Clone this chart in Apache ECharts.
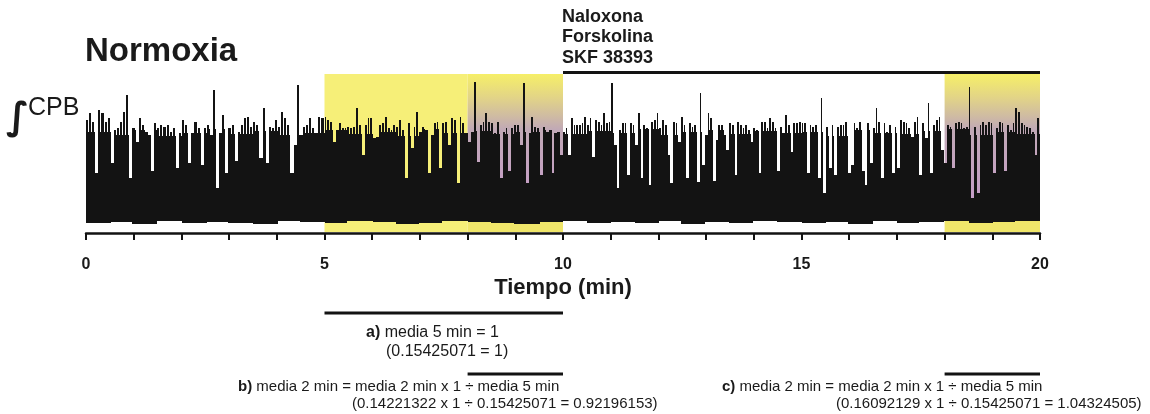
<!DOCTYPE html>
<html>
<head>
<meta charset="utf-8">
<script src="https://cdn.jsdelivr.net/npm/echarts@6/dist/echarts.min.js"></script>
<style>
  html, body { margin: 0; padding: 0; background: #fff; }
  #chart { width: 1150px; height: 414px; }
</style>
</head>
<body>
<div id="chart"></div>
<script>
// integrated CPB trace, spike tops (arbitrary units, 0 = time axis)
const peaks0to5 = [113,120,111,60,123,120,111,115,70,103,105,111,121,138,55,105,91,115,108,101,
  98,62,110,105,108,106,108,101,105,65,100,113,108,70,100,111,105,68,105,108,
  98,143,45,100,118,60,105,108,72,101,108,115,116,106,111,108,75,125,70,106,
  105,113,106,121,115,108,60,88,148,98,106,108,115,105,100,116,115];
const peaks5to10 = [116,113,111,91,103,110,105,105,106,105,106,125,108,78,108,115,115,95,96,108,
  110,116,105,103,108,106,113,103,55,110,85,106,121,101,106,103,60,98,110,111,
  65,110,111,88,115,113,50,116,110,100,91,101,151,71,108,111,120,111,110,100,
  111,55,101,105,62,105,108,108,88,150,50,100,116,106,105,58,106,101,103,60,
  100,101,78];
const peaks10to15 = [101,105,78,115,108,108,108,110,116,108,115,76,113,111,108,120,110,111,150,88,
  45,103,110,110,58,110,108,88,120,55,108,105,48,111,113,120,105,113,108,78,
  50,111,110,91,116,108,55,110,106,108,51,140,68,98,120,115,52,93,108,108,
  98,83,110,108,58,111,108,105,108,103,91,105,103,60,111,111,105,115,111,105,
  62,106,100,118,108,81,110,110,111];
const peaks15to20 = [110,110,60,108,106,108,55,135,40,106,65,108,58,106,108,108,111,60,68,110,
  105,111,62,48,110,70,105,125,111,55,110,101,108,60,106,65,113,111,110,105,
  96,111,116,58,110,95,130,60,108,113,116,83,70,108,106,65,110,111,110,105,
  106,146,35,106,40,108,111,108,111,110,60,105,111,110,62,108,103,110,125,121,
  110,108,106,105,101,78,115];
// per half minute: bottom edge of the trace and top of its solid black band
const baseLevel = [10,11,9,12,10,11,10,9,12,11,10,12,11,9,10,12,11,10,9,11,
  12,10,11,10,12,9,11,10,12,11,10,11,9,12,10,11,12,10,11,12];
const floorLevel = [101,98,103,97,100,104,99,102,98,100,103,99,101,97,104,100,102,99,101,103,
  99,102,100,104,98,101,103,99,102,100,101,97,103,100,99,102,104,98,101,99];

const xTicks = [0, 5, 10, 15, 20];
const yellowSpan = [5, 8];
const mixedSpans = [[8, 10], [18, 20]];
const drugSpan = [10, 20];
const drugNames = ['Naloxona', 'Forskolina', 'SKF 38393'];
const spanA = [5, 10];
const spanB = [8, 10];
const spanC = [18, 20];

const traceData = [];
[peaks0to5, peaks5to10, peaks10to15, peaks15to20].forEach((seg, k) => {
  const dt = 5 / seg.length;
  seg.forEach((p, j) => {
    const t = k * 5 + (j + 0.5) * dt;
    const h = Math.min(Math.floor(t * 2), baseLevel.length - 1);
    traceData.push([t, baseLevel[h], floorLevel[h], p, dt]);
  });
});

const ink = '#131313';
const textColor = '#1a1a1a';
const mixedFill = new echarts.graphic.LinearGradient(0, 0, 0, 1, [
  { offset: 0, color: '#f6ef68' },
  { offset: 0.15, color: '#e2d487' },
  { offset: 0.35, color: '#c1a9b6' },
  { offset: 0.85, color: '#c79ccb' },
  { offset: 0.93, color: '#f0e66a' },
  { offset: 1, color: '#f0e66a' }
]);

const chart = echarts.init(document.getElementById('chart'));

chart.setOption({
  animation: false,
  backgroundColor: '#fff',
  textStyle: { fontFamily: 'Liberation Sans, Arial, sans-serif' },
  grid: [
    { left: 86, top: 71, width: 954, height: 162 },
    { left: 86, top: 300, width: 954, height: 114 }
  ],
  xAxis: [
    {
      gridIndex: 0, type: 'value', min: 0, max: 20, interval: 1,
      axisLine: { lineStyle: { color: ink, width: 2.5 } },
      axisTick: { length: 7, lineStyle: { color: ink, width: 2 } },
      splitLine: { show: false },
      axisLabel: {
        margin: 24, color: textColor, fontSize: 16, fontWeight: 'bold',
        formatter: v => (xTicks.includes(v) ? String(v) : '')
      },
      name: 'Tiempo (min)', nameLocation: 'middle', nameGap: 44,
      nameTextStyle: { color: textColor, fontSize: 22, fontWeight: 'bold' }
    },
    { gridIndex: 1, type: 'value', min: 0, max: 20, show: false }
  ],
  yAxis: [
    { gridIndex: 0, type: 'value', min: 0, max: 162, show: false },
    { gridIndex: 1, type: 'value', min: 0, max: 114, inverse: true, show: false }
  ],
  graphic: [
    { type: 'text', style: { x: 85, y: 52, text: 'Normoxia', fill: textColor,
      font: 'bold 33px "Liberation Sans", Arial', verticalAlign: 'middle' } },
    { type: 'text', style: { x: 6, y: 119, text: '∫', fill: textColor,
      font: 'bold 38px "DejaVu Sans"', verticalAlign: 'middle' } },
    { type: 'text', style: { x: 28, y: 108, text: 'CPB', fill: textColor,
      font: '25px "Liberation Sans", Arial', verticalAlign: 'middle' } },
    ...drugNames.map((name, i) => ({
      type: 'text', style: { x: 562, y: 17 + i * 20.5, text: name, fill: textColor,
        font: 'bold 18px "Liberation Sans", Arial', verticalAlign: 'middle' }
    })),
    { type: 'text', style: { x: 366, y: 333, text: '{b|a)} media 5 min = 1', fill: textColor,
      font: '16px "Liberation Sans", Arial', verticalAlign: 'middle',
      rich: { b: { fontWeight: 'bold', fontSize: 16, fontFamily: 'Liberation Sans' } } } },
    { type: 'text', style: { x: 386, y: 352, text: '(0.15425071 = 1)', fill: textColor,
      font: '16px "Liberation Sans", Arial', verticalAlign: 'middle' } },
    { type: 'text', style: { x: 238, y: 387, text: '{b|b)} media 2 min = media 2 min x 1 ÷ media 5 min', fill: textColor,
      font: '15px "Liberation Sans", Arial', verticalAlign: 'middle',
      rich: { b: { fontWeight: 'bold', fontSize: 15, fontFamily: 'Liberation Sans' } } } },
    { type: 'text', style: { x: 352, y: 404, text: '(0.14221322 x 1 ÷ 0.15425071 = 0.92196153)', fill: textColor,
      font: '15px "Liberation Sans", Arial', verticalAlign: 'middle' } },
    { type: 'text', style: { x: 722, y: 387, text: '{b|c)} media 2 min = media 2 min x 1 ÷ media 5 min', fill: textColor,
      font: '15px "Liberation Sans", Arial', verticalAlign: 'middle',
      rich: { b: { fontWeight: 'bold', fontSize: 15, fontFamily: 'Liberation Sans' } } } },
    { type: 'text', style: { x: 836, y: 404, text: '(0.16092129 x 1 ÷ 0.15425071 = 1.04324505)', fill: textColor,
      font: '15px "Liberation Sans", Arial', verticalAlign: 'middle' } }
  ],
  series: [
    {
      // shaded periods and the drug bar
      type: 'line', xAxisIndex: 0, yAxisIndex: 0, data: [], z: 1, silent: true,
      markArea: {
        silent: true,
        data: [
          [{ xAxis: yellowSpan[0], yAxis: 1, itemStyle: { color: '#f6ef78' } }, { xAxis: yellowSpan[1], yAxis: 159 }],
          ...mixedSpans.map(s => [{ xAxis: s[0], yAxis: 1, itemStyle: { color: mixedFill } }, { xAxis: s[1], yAxis: 159 }])
        ]
      },
      markLine: {
        silent: true, symbol: 'none', label: { show: false },
        lineStyle: { color: ink, width: 3, type: 'solid' },
        data: [[{ coord: [drugSpan[0], 161] }, { coord: [drugSpan[1], 161] }]]
      }
    },
    {
      type: 'custom', xAxisIndex: 0, yAxisIndex: 0, z: 3, silent: true,
      data: traceData,
      encode: { x: 0, y: 3 },
      renderItem(params, api) {
        const t = api.value(0), b = api.value(1), f = api.value(2), p = api.value(3), dt = api.value(4);
        const c = api.coord([t, b]);
        const sp = api.size([dt, 0])[0];
        const xl = Math.round(c[0] - sp / 2), xr = Math.round(c[0] + sp / 2);
        const yf = api.coord([t, Math.min(f, p)])[1];
        const yp = api.coord([t, p])[1];
        return {
          type: 'group',
          children: [
            { type: 'rect', shape: { x: xl, y: yf, width: xr - xl, height: c[1] - yf }, style: { fill: ink } },
            { type: 'rect', shape: { x: xl, y: yp, width: Math.max(1, xr - xl - 1), height: c[1] - yp }, style: { fill: ink } }
          ]
        };
      }
    },
    ...[[spanA, 13], [spanB, 74], [spanC, 74]].map(([s, lvl]) => ({
      type: 'line', xAxisIndex: 1, yAxisIndex: 1, silent: true, symbol: 'none',
      lineStyle: { color: ink, width: 3 },
      data: [[s[0], lvl], [s[1], lvl]]
    }))
  ]
});
</script>
</body>
</html>
